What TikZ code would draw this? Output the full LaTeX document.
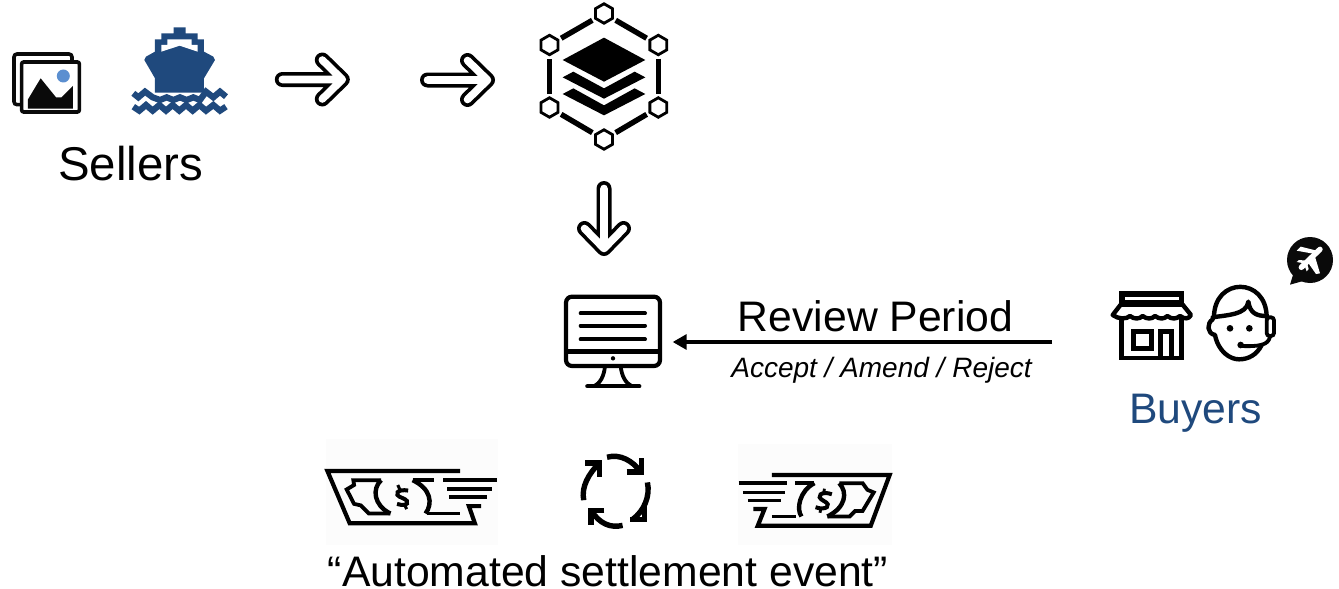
\documentclass[tikz,border=0pt]{standalone}
\usepackage{fontspec}
\setmainfont{Liberation Sans}
\usetikzlibrary{arrows.meta,shapes.geometric}
\definecolor{navy}{HTML}{1F497D}
\definecolor{sun}{HTML}{5B8FD0}
\definecolor{ink}{HTML}{0A0A0A}
\tikzset{
  x=1pt,y=-1pt,
  label/.style={inner sep=0pt,anchor=base,text=black},
  big/.style={font=\fontsize{42.7}{46}\selectfont},
  hollow arrow/.pic={
    \draw[black,line width=15pt,line cap=round,line join=round] (-60,0)--(0,0) (-20,-19.5)--(0,0)--(-20,19.5);
    \draw[white,line width=7.6pt,line cap=round,line join=round] (-60,0)--(0,0) (-20,-19.5)--(0,0)--(-20,19.5);
  },
  hexnode/.style={draw=black,fill=white,line width=2.8pt,regular polygon,regular polygon sides=6,shape border rotate=30,minimum size=19.5pt,inner sep=0pt},
  hexedge/.style={draw=black,line width=5.4pt,shorten >=13.5pt,shorten <=13.5pt},
  billline/.style={draw=black,line width=3.8pt,line join=miter},
  cyc/.style={draw=black,line width=5.4pt},
  shopline/.style={draw=black,line width=4.4pt,line cap=round,line join=round},
}
\begin{document}
\begin{tikzpicture}
\useasboundingbox (0,0) rectangle (1339,589);
\fill[white] (0,0) rectangle (1339,589);

% pictures icon
\begin{scope}[scale=0.33333]
\draw[draw=ink,line width=3.6pt,rounded corners=3pt] (216,186)--(216,162)--(42,162)--(42,314)--(62,314);
\draw[draw=ink,fill=white,line width=3.6pt,rounded corners=2pt] (65,186) rectangle (238,336);
\fill[ink] (84,326)--(84,298)--(122,235)--(168,292)--(185,292)--(219,258)--(219,326)--cycle;
\fill[sun] (190,228) circle (19.5);
% ship
\fill[navy] (521,82)--(557,82)--(557,100)--(593,100)--(593,118)--(612,118)--(612,155)--(640,170)--(645,180)--(612,235)--(612,278)--(465,278)--(465,235)--(433,180)--(438,170)--(465,155)--(465,118)--(484,118)--(484,100)--(521,100)--cycle;
\fill[white] (502,118)--(575,118)--(575,135)--(593,135)--(593,155)--(539,137)--(484,155)--(484,135)--(502,135)--cycle;
\draw[white,line width=3pt] (396,302)--(683,302);
\draw[navy,line width=6.2pt,line join=miter] (400,280)--(415,292)--(435,275)--(458,292)--(480,300)--(500,292)--(520,300)--(540,292)--(560,300)--(580,292)--(600,300)--(618,275)--(640,292)--(660,275)--(678,290);
\draw[navy,line width=6.2pt,line join=miter] (400,320)--(418,332)--(438,315)--(458,332)--(478,315)--(498,332)--(518,315)--(538,332)--(558,315)--(578,332)--(598,315)--(618,332)--(640,315)--(660,332)--(678,320);
\end{scope}
\node[label,font=\fontsize{47.4}{50}\selectfont] (sellers) at (130.5,180.5) {Sellers};

\pic at (342.3,79.5) {hollow arrow};
\pic at (487.5,80) {hollow arrow};
\pic[rotate=-90] at (604,248.5) {hollow arrow};

% hexagon with layers
\node[hexnode] (h1) at (604,13.5) {};
\node[hexnode] (h2) at (658.3,45) {};
\node[hexnode] (h3) at (658.3,107.5) {};
\node[hexnode] (h4) at (604,139.5) {};
\node[hexnode] (h5) at (549.5,107.5) {};
\node[hexnode] (h6) at (549.5,45) {};
\draw[hexedge] (h1.center)--(h2.center);
\draw[hexedge] (h2.center)--(h3.center);
\draw[hexedge] (h3.center)--(h4.center);
\draw[hexedge] (h4.center)--(h5.center);
\draw[hexedge] (h5.center)--(h6.center);
\draw[hexedge] (h6.center)--(h1.center);
\begin{scope}[shift={(410,0)},scale=0.33333]
\fill[black] (458,180)--(582,113)--(706,180)--(582,245)--cycle;
\fill[black] (458,232)--(490,215)--(582,265)--(674,215)--(706,232)--(582,296)--cycle;
\fill[black] (458,282)--(490,265)--(582,316)--(674,265)--(706,282)--(582,346)--cycle;
\end{scope}

% monitor
\begin{scope}[shift={(550,280)},scale=0.33333]
\draw[black,line width=4.2pt,rounded corners=6pt] (48,50) rectangle (330,258);
\draw[black,line width=5pt] (48,215)--(330,215);
\foreach \yy in {100,137,178} \draw[black,line width=4pt,line cap=round] (92,\yy)--(285,\yy);
\fill[black] (189,235) circle (6.5);
\draw[black,line width=3.8pt] (165,258) .. controls (162,290) and (150,310) .. (132,319);
\draw[black,line width=3.8pt] (212,258) .. controls (215,290) and (228,310) .. (246,319);
\draw[black,line width=4.2pt,line cap=round] (112,319)--(268,319);
\node[inner sep=0pt,minimum width=94pt,minimum height=69pt] (monitor) at (189,154) {};
\end{scope}

% review arrow
\coordinate (reviewstart) at (1052,342);
\draw[black,line width=3.2pt,shorten >=12.5pt,-{Triangle[length=14pt,width=15pt]}] (reviewstart)--(monitor.east |- reviewstart);
\node[label,big] (review) at (875.5,331) {Review Period};
\node[label,font=\itshape\fontsize{28}{30}\selectfont] (accept) at (881.5,377) {Accept / Amend / Reject};

% store and agent
\begin{scope}[shift={(1090,230)},scale=0.33333]
\fill[black] (88,183) rectangle (282,220);
\fill[white] (105,200) rectangle (268,210);
\draw[shopline,fill=white] (92,224)--(278,224)--(303,255) .. controls (295,268) and (285,268) .. (270,258) .. controls (258,268) and (245,268) .. (232,258) .. controls (222,268) and (208,268) .. (195,258) .. controls (185,268) and (170,268) .. (158,258) .. controls (148,268) and (132,268) .. (120,258) .. controls (110,268) and (85,268) .. (68,255)--cycle;
\draw[black,line width=4.6pt] (95,262)--(95,384)--(275,384)--(275,262);
\draw[black,line width=5pt] (129,305) rectangle (183,355);
\draw[black,line width=5pt] (212,384)--(212,305)--(244,305)--(244,384);
% agent
\draw[shopline] (372,262) .. controls (372,140) and (530,140) .. (530,262);
\draw[shopline] (368,262) .. controls (410,255) and (470,255) .. (475,215) .. controls (480,250) and (500,258) .. (530,258);
\draw[shopline] (368,268) .. controls (350,280) and (350,310) .. (375,315) .. controls (385,365) and (420,388) .. (447,388) .. controls (475,388) and (500,375) .. (515,345);
\draw[black,line width=3.8pt,rounded corners=3pt] (530,262) rectangle (552,318);
\draw[black,line width=3.8pt] (540,320) .. controls (535,345) and (510,350) .. (452,348);
\fill[black] (452,345) circle (10);
\fill[black] (420,295) circle (10);
\fill[black] (478,295) circle (10);
% bubble
\fill[ink] (660,90) circle (69);
\fill[ink] (612,125)--(600,164)--(650,150)--cycle;
\draw[white,line width=5.4pt,line cap=round] (634,112)--(690,58);
\fill[white] (675,72)--(620,62)--(632,50)--(680,62)--cycle;
\fill[white] (672,70)--(690,130)--(678,132)--(650,92)--cycle;
\fill[white] (642,100)--(620,96)--(627,90)--(650,92)--cycle;
\fill[white] (642,102)--(650,124)--(656,117)--(650,95)--cycle;
\end{scope}
\node[label,big,text=navy] (buyers) at (1195.5,423) {Buyers};

% money and cycle
\begin{scope}[shift={(320,435)},scale=0.37037]
\fill[black!1] (15,10) rectangle (480,298);
\fill[black!1] (1128,25) rectangle (1545,298);
% left bill
\draw[billline,line width=4.2pt] (378,97)--(20,97)--(80,238)--(418,238)--(402,192)--(435,192);
\draw[billline] (333,122)--(478,122) (343,145)--(465,145) (348,168)--(452,168);
\draw[billline] (165,122)--(90,122)--(92,135)--(72,147)--(92,186)--(110,190)--(132,212)--(190,212);
\draw[billline] (250,122)--(308,122) (290,212)--(378,212);
\draw[billline,line width=4.4pt] (165,122) .. controls (140,145) and (145,190) .. (190,212);
\draw[billline,line width=4.4pt] (250,122) .. controls (300,145) and (305,185) .. (285,212);
\draw[billline,line width=3pt] (210,135)--(216,148) (228,188)--(234,200);
\draw[billline,line width=4pt] (238,150) .. controls (210,145) and (195,160) .. (222,170) .. controls (248,180) and (235,195) .. (208,186);
% right bill
\draw[billline,line width=4.2pt] (1220,108)--(1538,108)--(1487,245)--(1182,245)--(1200,200)--(1170,200);
\draw[billline] (1130,130)--(1260,130) (1142,155)--(1256,155) (1155,177)--(1245,177);
\draw[billline] (1282,130)--(1335,130) (1220,220)--(1285,220);
\draw[billline] (1402,130)--(1465,130)--(1478,148)--(1495,155)--(1465,205)--(1445,205)--(1430,220)--(1370,220);
\draw[billline,line width=4.4pt] (1335,130) .. controls (1295,150) and (1285,200) .. (1300,220);
\draw[billline,line width=4.4pt] (1402,130) .. controls (1425,155) and (1420,195) .. (1370,220);
\draw[billline,line width=2.8pt] (1362,145)--(1360,156) (1352,200)--(1350,210);
\draw[billline,line width=4pt] (1382,160) .. controls (1355,150) and (1335,165) .. (1360,178) .. controls (1385,190) and (1365,205) .. (1338,195);
% cycle
\draw[cyc] (775,60) .. controls (810,50) and (845,70) .. (866,100);
\draw[cyc] (828,100)--(868,100)--(868,62);
\draw[cyc] (884,128) .. controls (892,165) and (875,205) .. (844,228);
\draw[cyc] (838,228)--(876,228)--(876,190) ;
\draw[cyc] (817,244) .. controls (785,252) and (755,240) .. (732,204);
\draw[cyc] (768,204)--(732,204)--(732,242);
\draw[cyc] (712,176) .. controls (705,140) and (725,105) .. (754,76);
\draw[cyc] (716,76)--(754,76)--(754,114);
\end{scope}
\node[label,big] (settle) at (608,586) {“Automated settlement event”};
\end{tikzpicture}
\end{document}
